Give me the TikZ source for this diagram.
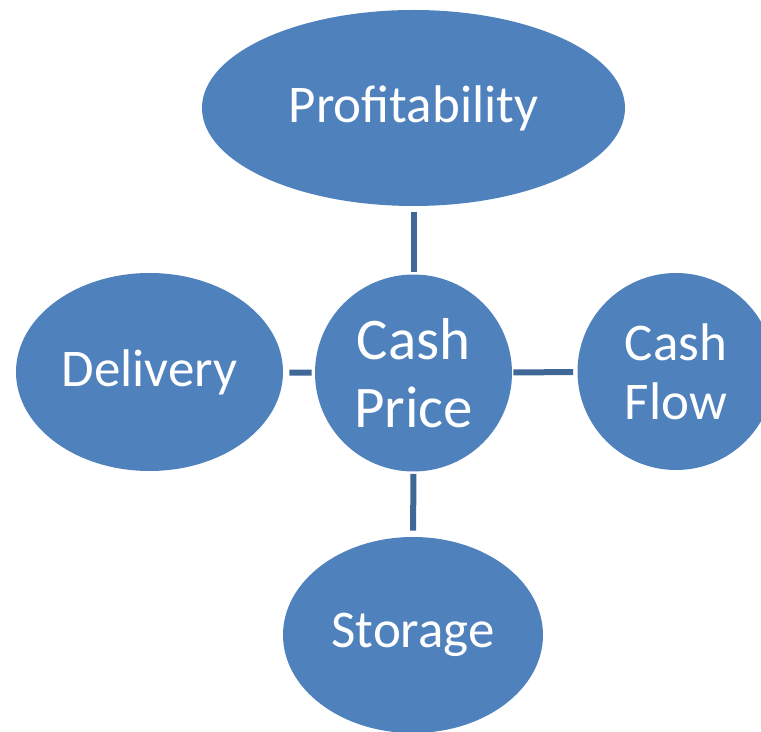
\documentclass[tikz,border=0pt]{standalone}
\usepackage{fontspec}
\setmainfont{Carlito}
\usetikzlibrary{shapes.geometric}

\definecolor{bubble}{HTML}{4F81BD}
\definecolor{spoke}{HTML}{3F6897}

\tikzset{
  bubble/.style={ellipse,fill=bubble,text=white,inner sep=0pt,align=center,
    font=\fontsize{26.5}{29.5}\selectfont},
  spoke/.style={draw=spoke,line width=3pt}
}

\begin{document}
\begin{tikzpicture}[x=0.5pt,y=-0.5pt]
\useasboundingbox (0,0) rectangle (761,732);

% hub and the four things around it (sizes in pt, half the grid unit)
\node[bubble,minimum width=98.5pt,minimum height=98.5pt,
  font=\fontsize{29.5}{34}\selectfont] (price) at (413.5,373) {Cash\\Price};
\node[bubble,minimum width=211.5pt,minimum height=98pt] (profit) at (413.5,108) {Profitability};
\node[bubble,minimum width=133.5pt,minimum height=99pt] (delivery) at (149.5,372) {Delivery};
\node[bubble,minimum width=98.5pt,minimum height=98.5pt] (flow) at (676,371.5) {Cash\\Flow};
\node[bubble,minimum width=130pt,minimum height=98pt] (storage) at (413,635) {Storage};

% spokes
\draw[spoke,shorten <=3pt,shorten >=1pt] (profit) -- (price);
\draw[spoke,shorten <=3pt,shorten >=1.5pt] (delivery) -- (price);
\draw[spoke,shorten <=0.5pt,shorten >=2pt] (price) -- (flow);
\draw[spoke,shorten <=1pt,shorten >=3pt] (price) -- (storage);
\end{tikzpicture}
\end{document}
